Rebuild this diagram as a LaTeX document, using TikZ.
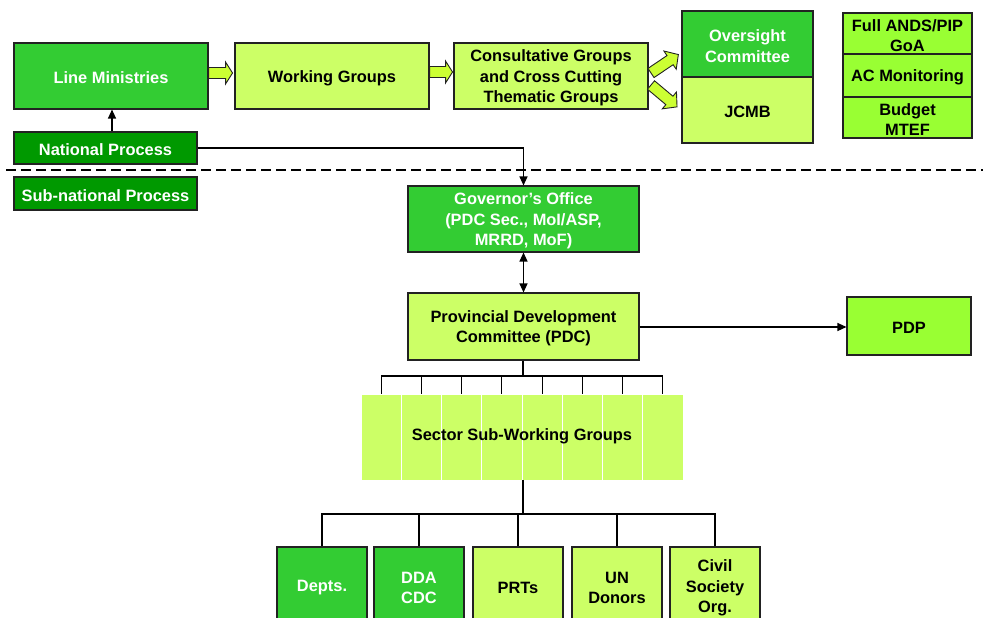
\documentclass[tikz,border=0pt]{standalone}
\usepackage{fontspec}
\setmainfont{Liberation Sans}
\usetikzlibrary{arrows.meta}
\definecolor{gmid}{HTML}{33CC33}
\definecolor{gdark}{HTML}{009900}
\definecolor{glight}{HTML}{CCFF66}
\definecolor{gbright}{HTML}{99FF33}
\definecolor{garrow}{HTML}{CCFF33}
\definecolor{edge}{HTML}{222222}
\newcommand\bx[6]{%
  \node[#1box,minimum width=#4pt,minimum height=#5pt] (#2) at (#3) {};
  \node[txt,#1txt] (#2-t) at ([yshift=-2pt]#2.center) {#6};}
\begin{document}
\begin{tikzpicture}[x=1pt,y=-1pt,
  box/.style={draw=edge,line width=1.1pt,inner sep=0pt},
  txt/.style={inner sep=0pt,align=center,font=\fontsize{16.4}{20.4}\selectfont\bfseries},
  midbox/.style={box,fill=gmid},
  darkbox/.style={box,fill=gdark},
  lightbox/.style={box,fill=glight},
  brightbox/.style={box,fill=gbright},
  midtxt/.style={text=white},
  darktxt/.style={text=white},
  lighttxt/.style={text=black},
  brighttxt/.style={text=black},
  conn/.style={line width=1.2pt,draw=black},
  tip/.style={-{Triangle[length=9pt,width=8pt]}},
  bitip/.style={{Triangle[length=9pt,width=8pt]}-{Triangle[length=9pt,width=8pt]}},
  sectbox/.style={draw=white,line width=0.8pt,fill=glight,minimum width=40.25pt,minimum height=86pt,inner sep=0pt},
  barrow/.pic={\draw[draw=edge,line width=0.9pt,fill=garrow,line join=miter]
     (0,-5.5) -- (#1-7,-5.5) -- (#1-7,-11) -- (#1,0) -- (#1-7,11) -- (#1-7,5.5) -- (0,5.5) -- cycle;},
  darrow/.pic={\draw[draw=edge,line width=0.9pt,fill=garrow,line join=miter]
     (0,-5.5) -- (#1-10,-5.5) -- (#1-10,-11) -- (#1,0) -- (#1-10,11) -- (#1-10,5.5) -- (0,5.5) -- cycle;}
]
\useasboundingbox (0,0) rectangle (983,618);

% top row
\bx{mid}{lm}{111,76}{194}{66}{Line Ministries}
\bx{light}{wg}{332,76}{194}{66}{Working Groups}
\bx{light}{cg}{551,76}{194}{66}{Consultative Groups\\and Cross Cutting\\Thematic Groups}
\bx{mid}{oc}{747.5,44}{131}{66}{Oversight\\Committee}
\bx{light}{jcmb}{747.5,110}{131}{66}{JCMB}
\bx{bright}{ands}{907.5,33.5}{129}{41}{Full ANDS/PIP\\GoA}
\bx{bright}{acm}{907.5,75.5}{129}{43}{AC Monitoring}
\bx{bright}{bud}{907.5,117.5}{129}{41}{Budget\\MTEF}

% block arrows
\pic at (lm.east |- 0,73) {barrow=24};
\pic at (wg.east |- 0,72) {barrow=23};
\pic[rotate=34] at (651,73) {darrow=33};
\pic[rotate=-40] at (651,85) {darrow=34};

% process labels
\bx{dark}{np}{105.5,148}{183}{32}{National Process}
\bx{dark}{snp}{105.5,193.5}{183}{33}{Sub-national Process}

% dashed divider
\coordinate (dl) at (6,170);
\coordinate (dr) at (983,170);
\draw[line width=1.8pt,dash pattern=on 10pt off 5pt] (dl) -- (dr);

% sub-national
\bx{mid}{go}{523.5,219}{231}{66}{Governor’s Office\\(PDC Sec., MoI/ASP,\\MRRD, MoF)}
\bx{light}{pdc}{523.5,326.5}{231}{67}{Provincial Development\\Committee (PDC)}
\bx{bright}{pdp}{909,326}{124}{58}{PDP}

% connectors
\draw[conn,tip] (np.north -| 112,0) -- (lm.south -| 112,0);
\draw[conn,tip] (np.east) -- (np.east -| go.north) -- (go.north);
\draw[conn,bitip] (go.south) -- (pdc.south |- pdc.north);
\draw[conn,tip] (pdc.east |- 0,327) -- (pdp.west |- 0,327);

% sector sub-working groups
\foreach \i in {1,...,8} {
  \node[sectbox] (s\i) at ({361+40.25*(\i-0.5)},437) {};
}
\node[txt] (sswg) at (522,436) {Sector Sub-Working Groups};

\coordinate (t1) at (523,376);
\draw[conn] (pdc.south -| t1) -- (t1);
\draw[conn] (s1.north) -- (s1.north |- t1) -- (s8.north |- t1) -- (s8.north);
\foreach \i in {2,...,7} { \draw[conn] (s\i.north) -- (s\i.north |- t1); }

% bottom boxes
\bx{mid}{b1}{322,586}{90}{78}{Depts.}
\bx{mid}{b2}{419,586}{90}{78}{DDA\\CDC}
\bx{light}{b3}{518,586}{90}{78}{PRTs}
\bx{light}{b4}{617,586}{90}{78}{UN\\Donors}
\bx{light}{b5}{715,586}{90}{78}{Civil\\Society\\Org.}

\coordinate (t2) at (523,514);
\draw[conn] (s5.south -| t2) -- (t2);
\draw[conn] (b1.north) -- (b1.north |- t2) -- (b5.north |- t2) -- (b5.north);
\foreach \i in {2,3,4} { \draw[conn] (b\i.north) -- (b\i.north |- t2); }
\end{tikzpicture}
\end{document}
